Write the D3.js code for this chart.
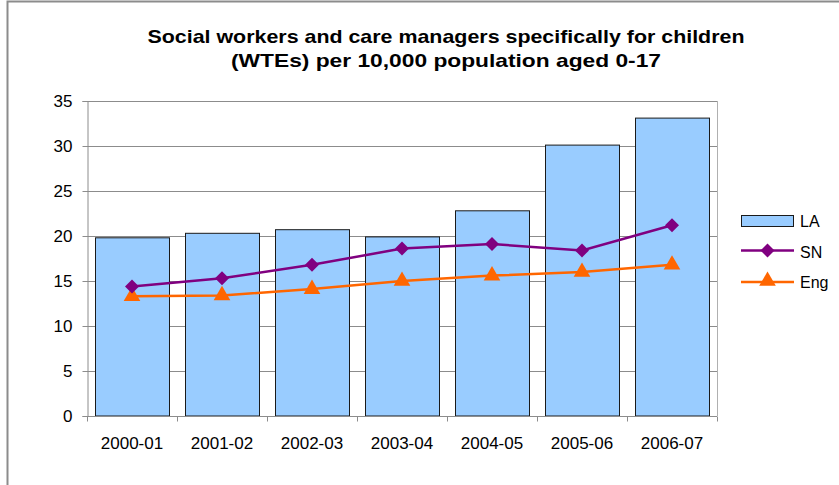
<!DOCTYPE html>
<html>
<head>
<meta charset="utf-8">
<script src="https://cdn.jsdelivr.net/npm/d3@7"></script>
<style>
  html, body { margin: 0; padding: 0; background: #fff; }
  svg { display: block; font-family: "Liberation Sans", Arial, sans-serif; }
</style>
</head>
<body>
<svg id="chart" width="839" height="485"></svg>
<script>
// Financial years on the category axis
const years = ["2000-01", "2001-02", "2002-03", "2003-04", "2004-05", "2005-06", "2006-07"];
// Local authority (bars)
const laValues = [19.8, 20.3, 20.7, 19.9, 22.8, 30.1, 33.1];
// Statistical neighbours (purple line)
const snValues = [14.4, 15.3, 16.8, 18.6, 19.1, 18.4, 21.2];
// England average (orange line)
const engValues = [13.3, 13.4, 14.1, 15.0, 15.6, 16.0, 16.8];
const yTicks = [0, 5, 10, 15, 20, 25, 30, 35];
const titleLines = [
  "Social workers and care managers specifically for children",
  "(WTEs) per 10,000 population aged 0-17"
];
const legendLabels = ["LA", "SN", "Eng"];

const svg = d3.select("#chart");
const plot = { left: 87, right: 717, top: 101, bottom: 416 };

// Outer chart frame
svg.append("rect")
  .attr("x", 7.5).attr("y", 1.5)
  .attr("width", 850).attr("height", 500)
  .attr("fill", "none").attr("stroke", "#8c8c8c").attr("stroke-width", 2);

// Title, slightly widened glyphs
const titleWidths = [597, 430];
svg.append("g").selectAll("text").data(titleLines).join("text")
  .attr("x", 446).attr("y", (d, i) => 43 + i * 23.5)
  .attr("text-anchor", "middle")
  .attr("font-size", 19).attr("font-weight", "bold").attr("fill", "#000")
  .attr("textLength", (d, i) => titleWidths[i])
  .attr("lengthAdjust", "spacingAndGlyphs")
  .text(d => d);

const x = d3.scaleBand().domain(years).range([plot.left, plot.right])
  .paddingInner(0.18).paddingOuter(0.09);
const y = d3.scaleLinear().domain([0, 35]).range([plot.bottom, plot.top]);

// Gridlines
svg.append("g").selectAll("line").data(yTicks.filter(t => t > 0)).join("line")
  .attr("x1", plot.left).attr("x2", plot.right)
  .attr("y1", d => Math.round(y(d)) + 0.5).attr("y2", d => Math.round(y(d)) + 0.5)
  .attr("stroke", "#8c8c8c").attr("stroke-width", 1);

// Plot right border
svg.append("line")
  .attr("x1", plot.right + 0.5).attr("x2", plot.right + 0.5)
  .attr("y1", plot.top).attr("y2", plot.bottom)
  .attr("stroke", "#b0b0b0");

// Bars
svg.append("g").selectAll("rect").data(laValues).join("rect")
  .attr("x", (d, i) => Math.round(x(years[i])) + 0.5)
  .attr("width", Math.round(x.bandwidth()))
  .attr("y", d => y(d))
  .attr("height", d => y(0) - y(d))
  .attr("fill", "#99ccff")
  .attr("stroke", "#1a1a1a").attr("stroke-width", 1);

// Y axis
const yAxis = d3.axisLeft(y).tickValues(yTicks).tickSize(5).tickPadding(10).tickFormat(d3.format("d"));
const gy = svg.append("g").attr("transform", `translate(${plot.left + 0.5},0)`).call(yAxis);
gy.select(".domain").attr("stroke", "#8c8c8c");
gy.selectAll(".tick line").attr("stroke", "#8c8c8c");
gy.selectAll(".tick text").attr("font-size", 17).attr("fill", "#000")
  .attr("font-family", "Liberation Sans, Arial, sans-serif");

// X axis with ticks on category boundaries
const gx = svg.append("g").attr("transform", `translate(0,${plot.bottom + 0.5})`);
gx.append("line").attr("x1", plot.left).attr("x2", plot.right)
  .attr("stroke", "#8c8c8c");
const edges = d3.range(years.length + 1).map(i => plot.left + i * (plot.right - plot.left) / years.length);
gx.selectAll("line.edge").data(edges).join("line").attr("class", "edge")
  .attr("x1", d => Math.round(d) + 0.5).attr("x2", d => Math.round(d) + 0.5)
  .attr("y1", 0).attr("y2", 5).attr("stroke", "#8c8c8c");
gx.selectAll("text").data(years).join("text")
  .attr("x", d => x(d) + x.bandwidth() / 2)
  .attr("y", 32.5)
  .attr("text-anchor", "middle")
  .attr("font-size", 17).attr("fill", "#000")
  .text(d => d);

const cx = i => x(years[i]) + x.bandwidth() / 2;
const line = d3.line().x((d, i) => cx(i)).y(d => y(d));

// England line with triangle markers
svg.append("path").datum(engValues)
  .attr("d", line).attr("fill", "none")
  .attr("stroke", "#ff6600").attr("stroke-width", 2.5);
const tri = d3.symbol().type(d3.symbolTriangle).size(120);
svg.append("g").selectAll("path").data(engValues).join("path")
  .attr("d", tri)
  .attr("transform", (d, i) => `translate(${cx(i)},${y(d)})`)
  .attr("fill", "#ff6600");

// Statistical neighbours line with diamond markers
svg.append("path").datum(snValues)
  .attr("d", line).attr("fill", "none")
  .attr("stroke", "#800080").attr("stroke-width", 2.5);
const diamond = (s) => `M0,${-s}L${s},0L0,${s}L${-s},0Z`;
svg.append("g").selectAll("path").data(snValues).join("path")
  .attr("d", diamond(7))
  .attr("transform", (d, i) => `translate(${cx(i)},${y(d)})`)
  .attr("fill", "#800080");

// Legend
const legend = svg.append("g").attr("transform", "translate(741,0)");
legend.append("rect").attr("x", 0.5).attr("y", 215.5).attr("width", 52).attr("height", 11)
  .attr("fill", "#99ccff").attr("stroke", "#1a1a1a");
legend.append("line").attr("x1", 0).attr("x2", 53).attr("y1", 250.5).attr("y2", 250.5)
  .attr("stroke", "#800080").attr("stroke-width", 2.5);
legend.append("path").attr("d", diamond(7)).attr("transform", "translate(26.5,250.5)").attr("fill", "#800080");
legend.append("line").attr("x1", 0).attr("x2", 53).attr("y1", 282).attr("y2", 282)
  .attr("stroke", "#ff6600").attr("stroke-width", 2.5);
legend.append("path").attr("d", tri).attr("transform", "translate(26.5,281)").attr("fill", "#ff6600");
legend.selectAll("text").data(legendLabels).join("text")
  .attr("x", 59).attr("y", (d, i) => 227 + i * 30.5)
  .attr("font-size", 16).attr("fill", "#000")
  .text(d => d);
</script>
</body>
</html>
